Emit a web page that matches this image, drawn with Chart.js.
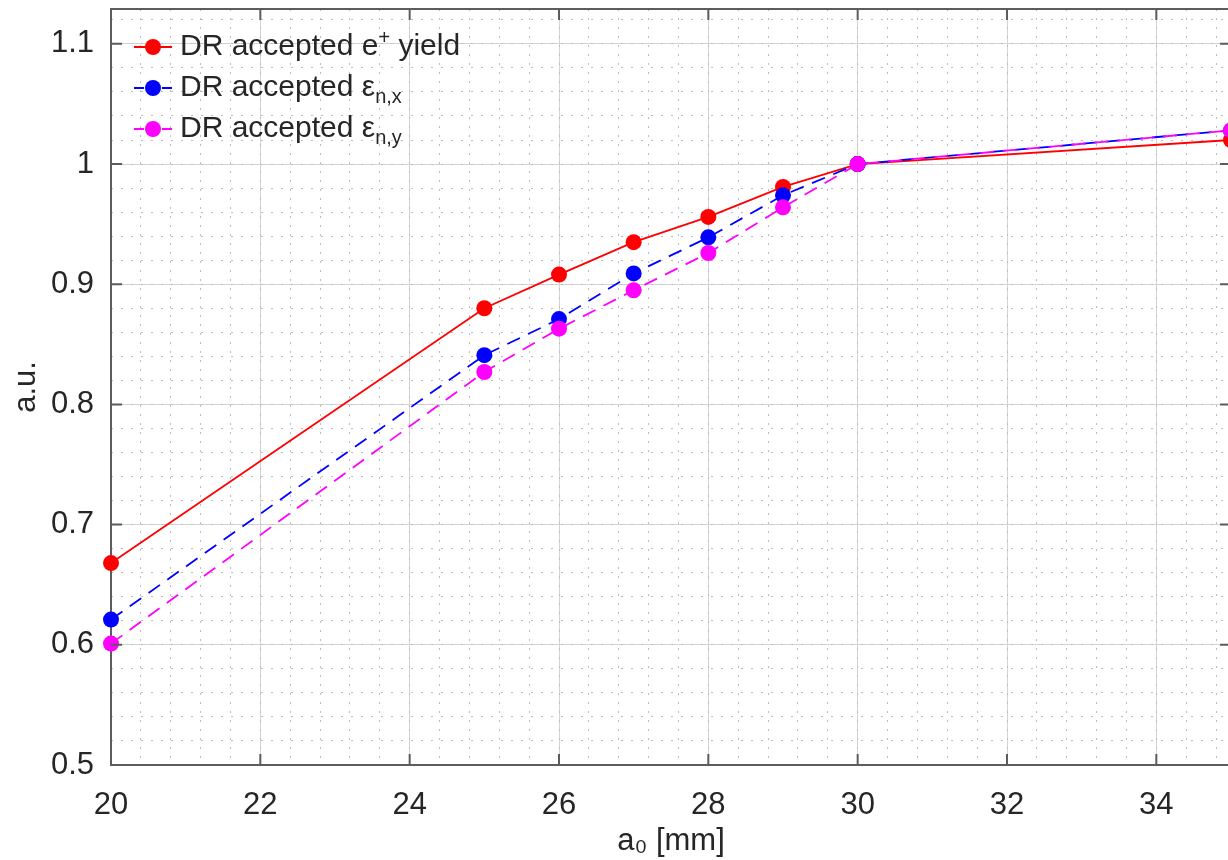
<!DOCTYPE html>
<html>
<head>
<meta charset="utf-8">
<script src="https://cdn.jsdelivr.net/npm/chart.js@4"></script>
<style>
  html, body { margin: 0; padding: 0; background: #fff; overflow: hidden; }
  #wrap { width: 1239px; height: 860px; position: relative; }
</style>
</head>
<body>
<div id="wrap"><canvas id="grafico"></canvas></div>
<script>
// aperture a0 [mm]
const apertura = [20, 25, 26, 27, 28, 29, 30, 35];
// normalised values (a.u.)
const yieldE = [0.668, 0.880, 0.908, 0.935, 0.956, 0.981, 1.000, 1.020];
const emitX  = [0.621, 0.841, 0.871, 0.909, 0.939, 0.974, 1.000, 1.028];
const emitY  = [0.601, 0.827, 0.863, 0.895, 0.926, 0.964, 1.000, 1.028];

// legend text pieces: [text, 'sup' | 'sub' | undefined]
const legendas = [
    [['DR accepted e'], ['+', 'sup'], [' yield']],
    [['DR accepted \u03b5'], ['n,x', 'sub']],
    [['DR accepted \u03b5'], ['n,y', 'sub']]
];

const FONTE = '"Liberation Sans", Arial, sans-serif';
const TEXTO = '#262626';
const EIXO = '#5c5c5c';

function pontos(ys) {
    return apertura.map((x, i) => ({ x: x, y: ys[i] }));
}

function serie(ys, cor, dash, ordem) {
    return {
        data: pontos(ys),
        borderColor: cor,
        backgroundColor: cor,
        pointBackgroundColor: cor,
        pointBorderWidth: 0,
        pointRadius: 8,
        borderWidth: 1.8,
        borderDash: dash,
        tension: 0,
        clip: false,
        order: ordem
    };
}

// ticks + frame + legend
const moldura = {
    id: 'moldura',
    afterDraw(chart) {
        const ctx = chart.ctx;
        const a = chart.chartArea;
        const x = chart.scales.x, y = chart.scales.y;
        ctx.save();
        ctx.strokeStyle = EIXO;
        ctx.lineWidth = 2;
        ctx.beginPath();
        ctx.moveTo(a.left, a.top);
        ctx.lineTo(a.right, a.top);
        ctx.lineTo(a.right, a.bottom);
        x.ticks.forEach(t => {
            const px = x.getPixelForValue(t.value);
            ctx.moveTo(px, a.bottom); ctx.lineTo(px, a.bottom - 11);
            ctx.moveTo(px, a.top); ctx.lineTo(px, a.top + 11);
        });
        y.ticks.forEach(t => {
            const py = y.getPixelForValue(t.value);
            ctx.moveTo(a.left, py); ctx.lineTo(a.left + 11, py);
            ctx.moveTo(a.right, py); ctx.lineTo(a.right - 11, py);
        });
        ctx.stroke();

        // legenda
        chart.data.datasets.forEach((ds, i) => {
            const ly = a.top + 38 + 41 * i;
            const lx = a.left + 23;
            ctx.strokeStyle = ds.borderColor;
            ctx.lineWidth = 1.8;
            ctx.beginPath();
            if (ds.borderDash && ds.borderDash.length) {
                ctx.moveTo(lx, ly); ctx.lineTo(lx + 10, ly);
                ctx.moveTo(lx + 28, ly); ctx.lineTo(lx + 38, ly);
            } else {
                ctx.moveTo(lx, ly); ctx.lineTo(lx + 38, ly);
            }
            ctx.stroke();
            ctx.fillStyle = ds.borderColor;
            ctx.beginPath();
            ctx.arc(lx + 19, ly, 8, 0, Math.PI * 2);
            ctx.fill();

            let tx = lx + 46;
            ctx.fillStyle = TEXTO;
            ctx.textBaseline = 'middle';
            ctx.textAlign = 'left';
            legendas[i].forEach(p => {
                let dy = 0;
                if (p[1] === 'sup') { ctx.font = '20px ' + FONTE; dy = -9; }
                else if (p[1] === 'sub') { ctx.font = '20px ' + FONTE; dy = 9; }
                else { ctx.font = '30px ' + FONTE; }
                ctx.fillText(p[0], tx, ly + dy);
                tx += ctx.measureText(p[0]).width;
            });
        });
        ctx.restore();
    }
};

new Chart(document.getElementById('grafico'), {
    type: 'line',
    data: {
        datasets: [
            serie(yieldE, '#ff0000', [], 2),
            serie(emitX, '#0000ff', [14, 9], 1),
            serie(emitY, '#ff00ff', [14, 9], 0)
        ]
    },
    options: {
        responsive: true,
        maintainAspectRatio: false,
        animation: false,
        layout: { padding: { top: 9, right: 3, left: 0, bottom: 0 } },
        plugins: { legend: { display: false }, tooltip: { enabled: false } },
        scales: {
            x: {
                type: 'linear', position: 'bottom', min: 20, max: 35,
                ticks: {
                    stepSize: 2, includeBounds: false, autoSkip: false, maxRotation: 0,
                    padding: 22, color: TEXTO, font: { family: FONTE, size: 31 }
                },
                grid: { color: '#d4d4d4', lineWidth: 1, drawTicks: false },
                border: { color: EIXO, width: 2 },
                title: {
                    display: true, text: 'a\u2080 [mm]', color: TEXTO,
                    font: { family: FONTE, size: 31 }, padding: { top: 0, bottom: 0 }
                },
                afterFit: s => { s.height = 95; s.paddingLeft = 0; s.paddingRight = 0; }
            },
            y: {
                type: 'linear', position: 'left', min: 0.5, max: 1.129,
                ticks: {
                    stepSize: 0.1, includeBounds: false, autoSkip: false,
                    padding: 17, color: TEXTO, font: { family: FONTE, size: 31 },
                    callback: v => String(+v.toFixed(2))
                },
                grid: { color: '#d4d4d4', lineWidth: 1, drawTicks: false },
                border: { color: EIXO, width: 2 },
                title: {
                    display: true, text: 'a.u.', color: TEXTO,
                    font: { family: FONTE, size: 31 }, padding: { top: 8, bottom: 0 }
                },
                afterFit: s => { s.width = 111; s.paddingTop = 0; s.paddingBottom = 0; }
            },
            xMenor: {
                type: 'linear', position: 'top', min: 20, max: 35,
                ticks: { display: false, stepSize: 0.4, includeBounds: false, autoSkip: false },
                grid: { color: '#bdbdbd', lineWidth: 1, drawTicks: false, borderDash: [2, 7] },
                border: { display: false, dash: [2, 7] },
                afterFit: s => { s.height = 0; s.paddingLeft = 0; s.paddingRight = 0; }
            },
            yMenor: {
                type: 'linear', position: 'right', min: 0.5, max: 1.129,
                ticks: { display: false, stepSize: 0.02, includeBounds: false, autoSkip: false },
                grid: { color: '#bdbdbd', lineWidth: 1, drawTicks: false, borderDash: [2, 8] },
                border: { display: false, dash: [2, 8] },
                afterFit: s => { s.width = 0; s.paddingTop = 0; s.paddingBottom = 0; }
            }
        }
    },
    plugins: [moldura]
});
</script>
</body>
</html>
